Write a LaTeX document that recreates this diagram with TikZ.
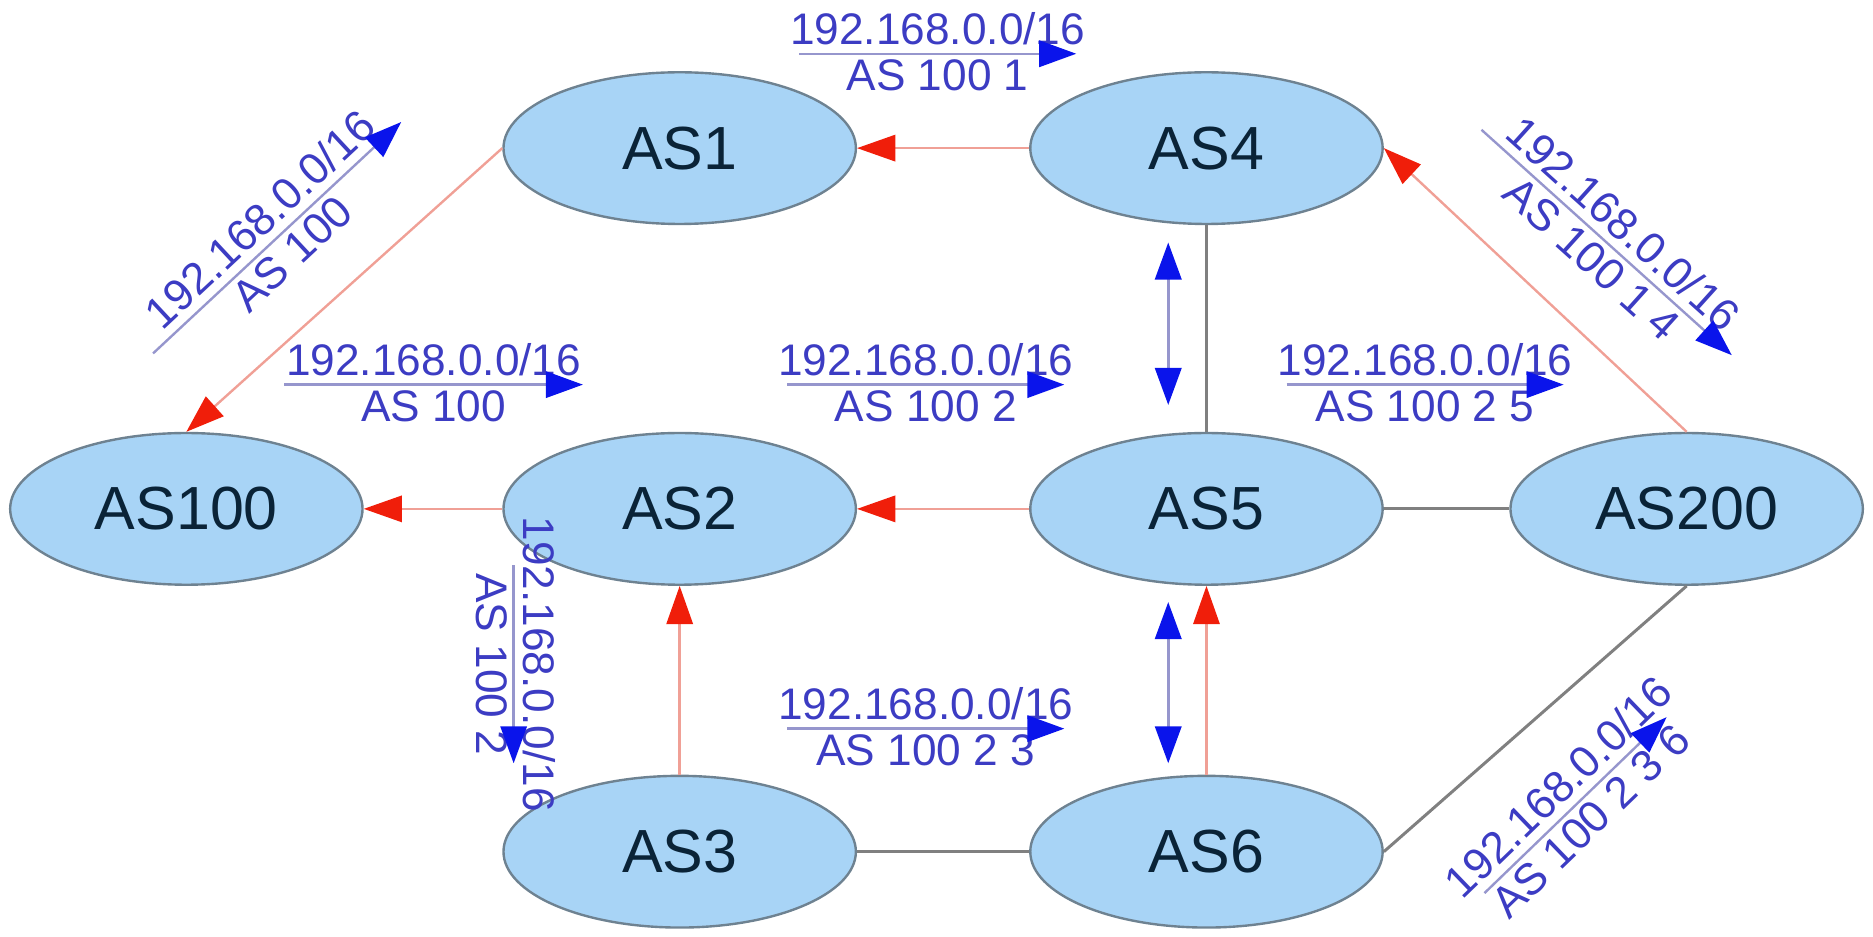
\documentclass[tikz,border=0pt]{standalone}
\usepackage{fontspec}
\setmainfont{Liberation Sans}
\usetikzlibrary{shapes.geometric,arrows.meta}
\definecolor{asfill}{RGB}{168,212,246}
\definecolor{asline}{RGB}{110,130,145}
\definecolor{astext}{RGB}{10,35,55}
\definecolor{lbltext}{RGB}{60,60,195}
\definecolor{lblline}{RGB}{150,150,205}
\definecolor{arrblue}{RGB}{10,20,235}
\definecolor{redline}{RGB}{240,160,150}
\definecolor{redhead}{RGB}{240,30,10}
\definecolor{grayline}{RGB}{128,128,128}
\tikzset{
 asnode/.style={ellipse, draw=asline, line width=2pt, fill=asfill, minimum width=295pt, minimum height=127pt, inner sep=0pt, text=astext, font=\fontsize{51}{53}\selectfont},
 route/.style={draw=redline, line width=2pt, -{Triangle[length=32pt,width=22pt,color=redhead]}},
 link/.style={draw=grayline, line width=2.5pt},
 updown/.style={draw=lblline, line width=2.5pt, {Triangle[length=31pt,width=22pt,color=arrblue]}-{Triangle[length=31pt,width=22pt,color=arrblue]}},
 lbl/.style={text=lbltext, font=\fontsize{37}{40}\selectfont, inner sep=0pt, anchor=base},
 fracline/.style={draw=lblline, line width=2pt, -{Triangle[length=31pt,width=22pt,color=arrblue]}},
}
\newcommand{\pfxlabel}[6]{%
 \begin{scope}[shift={(#2,#3)}, rotate=#4]
 \node[lbl, rotate=#4] (#1a) at (0,8) {192.168.0.0/16};
 \node[lbl, rotate=#4] (#1b) at (0,-31) {#6};
 \coordinate (#1s) at (-#5,0);
 \coordinate (#1e) at (#5,0);
 \draw[fracline] (#1s) -- (#1e);
 \end{scope}}
\begin{document}
\begin{tikzpicture}[x=1pt,y=1pt]
\useasboundingbox (0,0) rectangle (1568,-784);
\node[asnode] (as1) at (569,-124) {AS1};
\node[asnode] (as4) at (1010,-124) {AS4};
\node[asnode] (as100) at (156,-426) {AS100};
\node[asnode] (as2) at (569,-426) {AS2};
\node[asnode] (as5) at (1010,-426) {AS5};
\node[asnode] (as200) at (1412,-426) {AS200};
\node[asnode] (as3) at (569,-713) {AS3};
\node[asnode] (as6) at (1010,-713) {AS6};
\draw[route] (as4.west) -- (as1.east);
\draw[route] (as1.west) -- (as100.north);
\draw[route] (as2.west) -- (as100.east);
\draw[route] (as5.west) -- (as2.east);
\draw[route] (as3.north) -- (as2.south);
\draw[route] (as6.north) -- (as5.south);
\draw[route] (as200.north) -- (as4.east);
\draw[link] (as4.south) -- (as5.north);
\draw[link] (as5.east) -- (as200.west);
\draw[link] (as3.east) -- (as6.west);
\draw[link] (as6.east) -- (as200.south);
\coordinate (u1) at (978,-203);
\coordinate (u2) at (978,-339);
\draw[updown] (u1) -- (u2);
\coordinate (d1) at (978,-504);
\coordinate (d2) at (978,-639);
\draw[updown] (d1) -- (d2);
\pfxlabel{la}{785}{-45}{0}{116}{AS 100 1}
\pfxlabel{lb}{232}{-199}{43}{142}{AS 100}
\pfxlabel{lc}{363}{-322}{0}{125}{AS 100}
\pfxlabel{ld}{775}{-322}{0}{116}{AS 100 2}
\pfxlabel{le}{1193}{-322}{0}{116}{AS 100 2 5}
\pfxlabel{lf}{1345}{-203}{-42}{141}{AS 100 1 4}
\pfxlabel{lg}{430}{-556}{-90}{83}{AS 100 2}
\pfxlabel{lh}{775}{-610}{0}{116}{AS 100 2 3}
\pfxlabel{li}{1319}{-674}{44}{106}{AS 100 2 3 6}
\end{tikzpicture}
\end{document}
